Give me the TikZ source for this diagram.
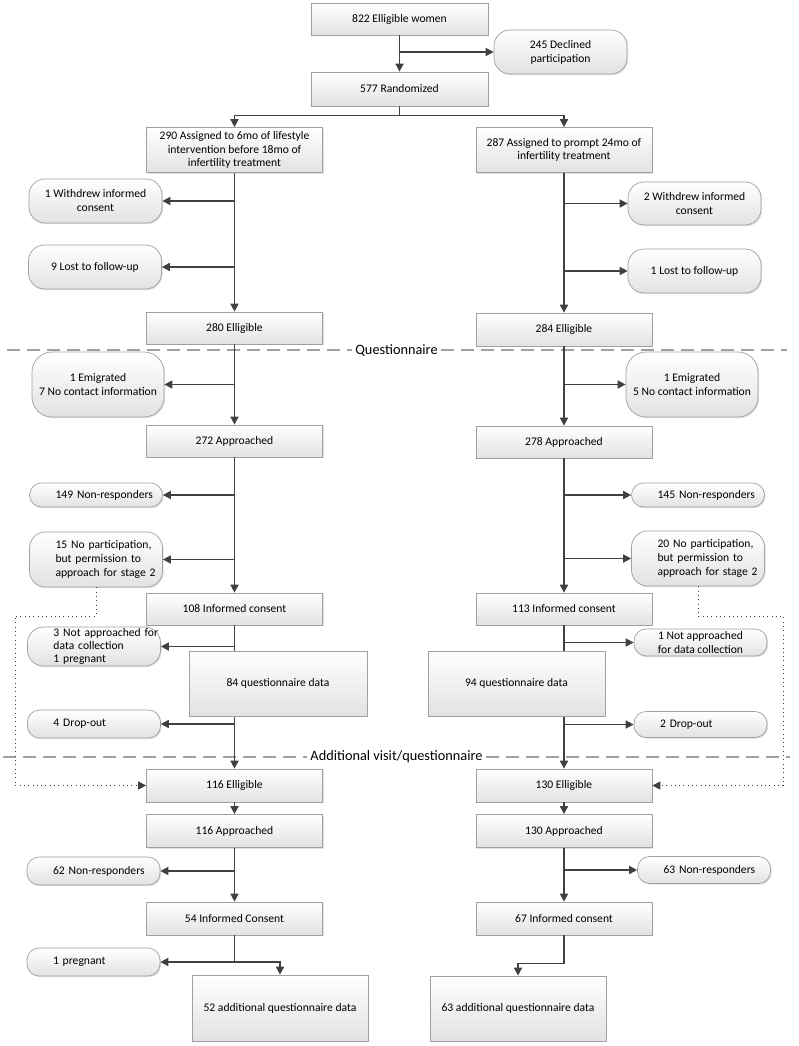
\documentclass[tikz,border=0pt]{standalone}
\usepackage{fontspec}
\setmainfont{Carlito}
\usetikzlibrary{arrows.meta,shadows}

\definecolor{linegray}{HTML}{404040}
\definecolor{boxgray}{HTML}{A0A0A0}
\definecolor{fillgray}{HTML}{E2E2E2}
\definecolor{sepgray}{HTML}{A0A0A0}

\begin{document}
\begin{tikzpicture}[x=1pt,y=-1pt,>={Triangle[length=8pt,width=8pt]},
  font=\fontsize{11.6}{14}\selectfont,
  box/.style={draw=boxgray,line width=.7pt,top color=white,bottom color=fillgray,
    drop shadow={shadow xshift=1.2pt,shadow yshift=-1.2pt,opacity=.25},
    minimum width=176pt,minimum height=33pt,align=center,inner sep=2pt},
  side/.style={box,rounded corners=12pt,minimum width=133pt},
  sidel/.style={side,align=left,text width=107pt,inner xsep=13pt,
    execute at begin node={\leftskip=13pt\rightskip=-20pt plus 1fil\relax}},
  flow/.style={draw=linegray,line width=1.6pt},
  dots/.style={draw=linegray,line width=1pt,dash pattern=on 1pt off 3.3pt},
  sep/.style={draw=sepgray,line width=1.5pt,dash pattern=on 13pt off 7pt},
  phase/.style={fill=white,inner xsep=3pt,inner ysep=1pt,font=\fontsize{14.3}{16}\selectfont}]
  \useasboundingbox (0,0) rectangle (798,1046);
  % Trennlinien
  \node[phase] (qlabel) at (396.5,350) {Questionnaire};
  \coordinate (qleft) at (7,350);
  \coordinate (qright) at (787,350);
  \draw[sep] (qleft) -- (qlabel.west);
  \draw[sep] (qlabel.east) -- (qright);
  \node[phase] (avlabel) at (396.5,757) {Additional visit/questionnaire};
  \coordinate (avleft) at (3,757);
  \coordinate (avright) at (790,757);
  \draw[sep] (avleft) -- (avlabel.west);
  \draw[sep] (avlabel.east) -- (avright);
  % Einschluss
  \node[box,minimum width=177pt,minimum height=32pt] (elig) at (399.5,19) {822 Elligible women};
  \node[side,rounded corners=16pt,minimum height=44pt] (decl) at (560.5,52) {245 Declined\\participation};
  \node[box,minimum width=177pt,minimum height=34pt] (rand) at (399.5,89) {577 Randomized};
  \node[box,minimum height=45pt,inner ysep=0pt,font=\fontsize{11.6}{13.7}\selectfont] (liassign) at (234.5,150) {290 Assigned to 6mo of lifestyle\\intervention before 18mo of\\infertility treatment};
  \node[box,minimum height=45pt,inner ysep=0pt,font=\fontsize{11.6}{13.7}\selectfont] (coassign) at (564,150) {287 Assigned to prompt 24mo of\\infertility treatment};
  % linke Seite
  \node[side,rounded corners=16pt,minimum height=44pt] (liwithdrew) at (95.5,201) {1 Withdrew informed\\consent};
  \node[side,rounded corners=16pt,minimum height=44pt] (lilost) at (95,267) {9 Lost to follow-up};
  \node[box,minimum height=32pt] (lielig) at (234.5,328) {280 Elligible};
  \node[side,rounded corners=20pt,minimum width=132pt,minimum height=65pt] (liemig) at (98,384.5) {1 Emigrated\\7 No contact information};
  \node[box,minimum height=32pt] (liappr) at (234.5,441) {272 Approached};
  \node[sidel,minimum height=24pt] (linonresp) at (96,495) {149 Non-responders};
  \node[sidel,rounded corners=16pt,minimum height=55pt] (linopart) at (96,559.5) {15 No participation,\\but permission to\\approach for stage 2};
  \node[box,minimum height=32pt] (liic) at (234.5,609) {108 Informed consent};
  \node[sidel,rounded corners=16pt,minimum height=39pt,inner ysep=0pt,font=\fontsize{11.6}{13.3}\selectfont] (linotappr) at (94,646.5) {3 Not approached for\\data collection\\1 pregnant};
  \node[sidel,minimum height=28pt] (lidrop) at (94,724) {4 Drop-out};
  \node[box] (lielig2) at (234.5,785.5) {116 Elligible};
  \node[box] (liappr2) at (234.5,831) {116 Approached};
  \node[sidel,minimum height=28pt] (linonresp2) at (93.5,871) {62 Non-responders};
  \node[box] (liic2) at (234.5,918.5) {54 Informed Consent};
  \node[sidel,minimum height=28pt] (lipreg) at (93.5,962) {1 pregnant};
  \node[box,minimum height=66pt] (liaddq) at (280,1008) {52 additional questionnaire data};
  % rechte Seite
  \node[side,rounded corners=16pt,minimum height=43pt] (cowithdrew) at (694.5,203.5) {2 Withdrew informed\\consent};
  \node[side,rounded corners=16pt,minimum height=44pt] (colost) at (694.5,271) {1 Lost to follow-up};
  \node[box] (coelig) at (564,329.5) {284 Elligible};
  \node[side,rounded corners=20pt,minimum width=132pt,minimum height=65pt] (coemig) at (692,384.5) {1 Emigrated\\5 No contact information};
  \node[box,minimum height=32pt] (coappr) at (564,442) {278 Approached};
  \node[sidel,minimum height=24pt] (cononresp) at (698,495) {145 Non-responders};
  \node[sidel,rounded corners=16pt,minimum height=55pt] (conopart) at (698,558.5) {20 No participation,\\but permission to\\approach for stage 2};
  \node[box,minimum height=32pt] (coic) at (564,609) {113 Informed consent};
  \node[side,minimum height=27pt,inner ysep=0pt,font=\fontsize{11.6}{13.3}\selectfont] (conotappr) at (700.5,642.5) {1 Not approached\\for data collection};
  \node[sidel,minimum height=26pt] (codrop) at (700.5,724.5) {2 Drop-out};
  \node[box] (coelig2) at (564,785.5) {130 Elligible};
  \node[box] (coappr2) at (564,831) {130 Approached};
  \node[sidel,minimum height=27pt] (cononresp2) at (704,870) {63 Non-responders};
  \node[box] (coic2) at (564,918.5) {67 Informed consent};
  \node[box,minimum height=65pt] (coaddq) at (518,1008.5) {63 additional questionnaire data};
  % Pfeile
  \draw[flow,->] (elig) -- (rand);
  \draw[flow,->] (elig.south |- decl.west) -- (decl.west);
  \draw[flow] (rand.south) -- ++(0,9) coordinate (split);
  \draw[flow,->] (split) -| (liassign.north);
  \draw[flow,->] (split) -| (coassign.north);
  \foreach \a/\b in {liassign/lielig,lielig/liappr,liappr/liic,liic/lielig2,lielig2/liappr2,liappr2/liic2,
    coassign/coelig,coelig/coappr,coappr/coic,coic/coelig2,coelig2/coappr2,coappr2/coic2}
    \draw[flow,->] (\a) -- (\b);
  \foreach \a/\b in {liassign/liwithdrew,liassign/lilost,lielig/liemig,liappr/linonresp,liappr/linopart,
    liic/linotappr,liic/lidrop,liappr2/linonresp2}
    \draw[flow,->] (\a.south |- \b.east) -- (\b.east);
  \foreach \a/\b in {coassign/cowithdrew,coassign/colost,coelig/coemig,coappr/cononresp,coappr/conopart,
    coic/conotappr,coic/codrop,coappr2/cononresp2}
    \draw[flow,->] (\a.south |- \b.west) -- (\b.west);
  \draw[flow] (liic2.south) -- (liic2.south |- lipreg.east) coordinate (lifork);
  \draw[flow,->] (lifork) -- (lipreg.east);
  \draw[flow,->] (lifork) -| (liaddq.north);
  \draw[flow,->] (coic2.south) -- ++(0,28) -| (coaddq.north);
  % gepunktete Rueckfuehrung
  \coordinate (lidot) at (15,616);
  \coordinate (codot) at (783,616);
  \draw[dots,->] (linopart.south) |- (lidot) |- (lielig2.west);
  \draw[dots,->] (conopart.south) |- (codot) |- (coelig2.east);
  % Datenboxen ueber den Linien
  \node[box,minimum width=178pt,minimum height=65pt] (liquest) at (278,683.5) {84 questionnaire data};
  \node[box,minimum width=177pt,minimum height=65pt] (coquest) at (516.5,683.5) {94 questionnaire data};
\end{tikzpicture}
\end{document}
